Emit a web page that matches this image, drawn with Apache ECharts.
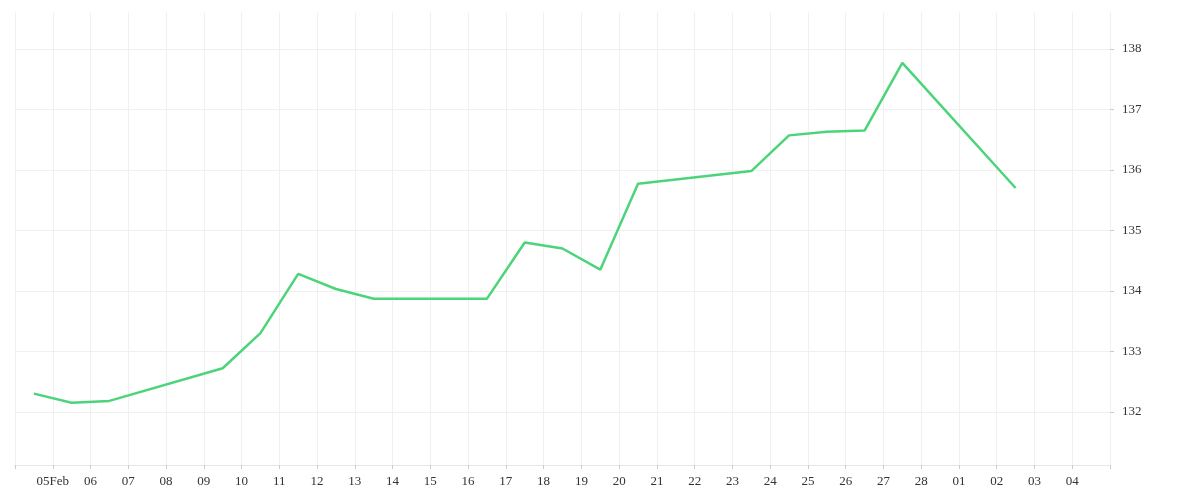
<!DOCTYPE html>
<html><head><meta charset="utf-8">
<script src="https://cdn.jsdelivr.net/npm/echarts@6/dist/echarts.min.js"></script>
<style>html,body{margin:0;padding:0;background:#fff}#c{width:1200px;height:500px}</style>
</head><body><div id="c"></div>
<script>
const dates = ['2023-02-04','2023-02-05','2023-02-06','2023-02-09','2023-02-10','2023-02-11','2023-02-12','2023-02-13','2023-02-16','2023-02-17','2023-02-18','2023-02-19','2023-02-20','2023-02-23','2023-02-24','2023-02-25','2023-02-26','2023-02-27','2023-03-02'];
const values = [132.30,132.15,132.18,132.72,133.30,134.28,134.03,133.87,133.87,134.80,134.70,134.35,135.77,135.98,136.57,136.63,136.65,137.77,135.70];
const yTicks = [132,133,134,135,136,137,138];
const DAY = 86400000;
const data = dates.map((d,i)=>[Date.parse(d+'T12:00:00Z'), values[i]]);
const chart = echarts.init(document.getElementById('c'));
chart.setOption({
  animation:false,
  grid:{left:15,right:90,top:12,bottom:35},
  xAxis:{type:'value',min:Date.UTC(2023,1,4),max:Date.UTC(2023,2,5),interval:DAY,
    axisLine:{show:true,lineStyle:{color:'#e6e6e6'}},axisTick:{show:true,length:4,lineStyle:{color:'#ccc'}},
    splitLine:{show:true,lineStyle:{color:'#f0f0f0'}},
    axisLabel:{fontFamily:'Liberation Serif',fontSize:13,color:'#333',margin:10,hideOverlap:false,
      formatter:function(v){const d=new Date(v);const m=d.getUTCMonth(),day=d.getUTCDate();
        if(m===1&&day===4)return '';
        if(m===2&&day===5)return '';
        const s=String(day).padStart(2,'0');
        return (m===1&&day===5)?s+'Feb':s;}}},
  yAxis:{type:'value',position:'right',min:131.12,max:138.61,
    axisLine:{show:true,lineStyle:{color:'#f0f0f0'}},
    splitLine:{show:true,lineStyle:{color:'#f0f0f0'}},
    axisLabel:{fontFamily:'Liberation Serif',fontSize:13,color:'#333',margin:12,customValues:yTicks},
    axisTick:{show:true,customValues:yTicks,length:4,lineStyle:{color:'#ccc'}}},
  series:[{type:'line',data:data,showSymbol:false,lineStyle:{color:'#4cd47a',width:2.5},itemStyle:{color:'#4cd47a'}}]
});
</script></body></html>
